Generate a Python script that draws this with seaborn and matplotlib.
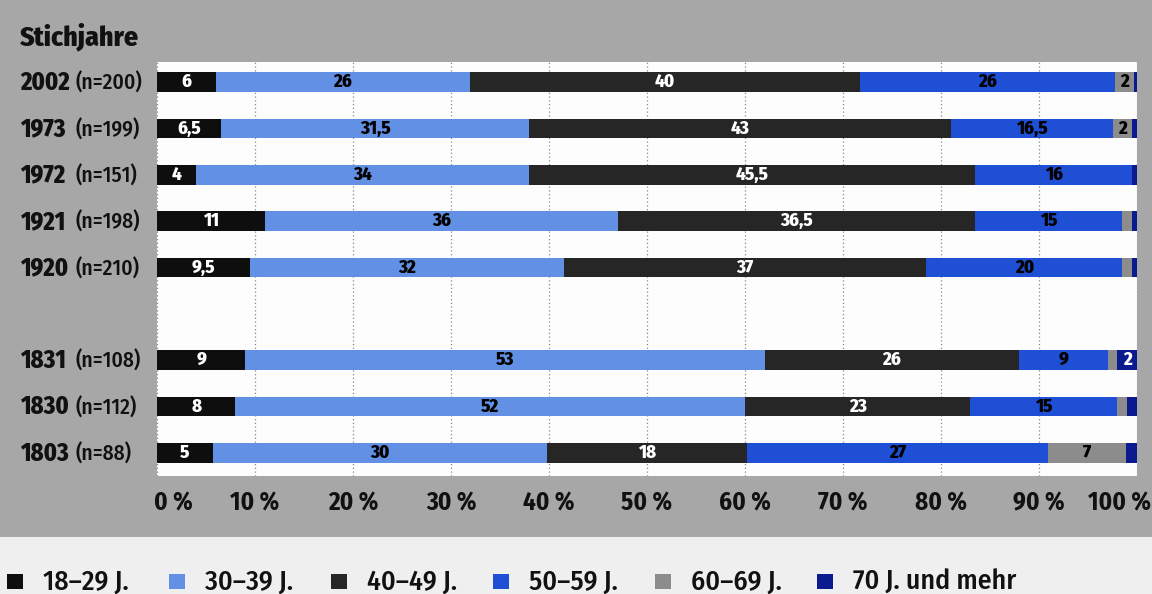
import matplotlib
matplotlib.use("Agg")
import matplotlib.pyplot as plt
from matplotlib.patches import Rectangle
from matplotlib import transforms
import pandas as pd
import seaborn as sns

# survey years (top to bottom) and their sample sizes
years = ["2002", "1973", "1972", "1921", "1920", "1831", "1830", "1803"]
sample_sizes = [200, 199, 151, 198, 210, 108, 112, 88]
age_groups = ["18–29 J.", "30–39 J.", "40–49 J.", "50–59 J.", "60–69 J.", "70 J. und mehr"]

# values per age group (1803 is given as head counts of n=88)
age_18_29 = [6, 6.5, 4, 11, 9.5, 9, 8, 5]
age_30_39 = [26, 31.5, 34, 36, 32, 53, 52, 30]
age_40_49 = [40, 43, 45.5, 36.5, 37, 26, 23, 18]
age_50_59 = [26, 16.5, 16, 15, 20, 9, 15, 27]
age_60_69 = [2, 2, 0, 1, 1, 1, 1, 7]
age_70_plus = [0.3, 0.5, 0.5, 0.5, 0.5, 2, 1, 1]

group_colors = ["#0e0e0e", "#6190e4", "#262626", "#1f4fd4", "#8c8c8c", "#0b1a8e"]
label_colors = ["white", "black", "white", "black", "black", "white"]

# order of rows on the axis, with an empty slot between the two blocks
row_order = ["2002", "1973", "1972", "1921", "1920", " ", "1831", "1830", "1803"]

df = pd.DataFrame(
    [age_18_29, age_30_39, age_40_49, age_50_59, age_60_69, age_70_plus],
    index=age_groups, columns=years,
).T
shares = df.div(df.sum(axis=1), axis=0) * 100
cumulative = shares.cumsum(axis=1)

sns.set_theme(style="white")
plt.rcParams["font.family"] = ["Fira Sans Condensed", "Roboto", "DejaVu Sans"]
INK = "#111111"

W, H = 1152, 594
fig = plt.figure(figsize=(W / 100, H / 100), dpi=100)
fig.patch.set_facecolor("#a7a7a7")
fig.add_artist(Rectangle((0, 0), 1, 57 / H, transform=fig.transFigure,
                         facecolor="#efefef", edgecolor="none", zorder=0))

ax = fig.add_axes([157 / W, 1 - 476 / H, 980 / W, 414 / H])
ax.set_facecolor("#fdfdfd")

# stacked bars: draw cumulative totals from the widest down to the narrowest
for gi in range(len(age_groups) - 1, -1, -1):
    g = age_groups[gi]
    sns.barplot(x=cumulative[g].values, y=years, order=row_order, orient="h",
                color=group_colors[gi], saturation=1, width=0.43,
                linewidth=0, errorbar=None, ax=ax, zorder=3)

# value labels centred in each segment
for gi, g in enumerate(age_groups):
    for yr in years:
        v = df.loc[yr, g]
        if v < 2:
            continue
        xc = cumulative.loc[yr, g] - shares.loc[yr, g] / 2
        yc = row_order.index(yr)
        ax.text(xc, yc, f"{v:g}".replace(".", ","), ha="center", va="center",
                color=label_colors[gi], fontsize=13.5, fontweight="heavy", zorder=5)

ax.set_xlim(0, 100)
ax.set_ylim(8.5, -0.435)
ax.set_ylabel("")
ax.set_xlabel("")
ax.set_yticks([])
ax.set_xticks(range(0, 101, 10))
ax.set_xticklabels([f"{t} %" for t in range(0, 101, 10)], fontsize=18, fontweight="bold")
ax.tick_params(axis="x", length=0, pad=11, colors=INK)
ax.set_axisbelow(True)
ax.grid(axis="x", linestyle=(0, (1, 2)), color="#8a8a8a", linewidth=0.9)
for s in ax.spines.values():
    s.set_visible(False)

# pull the outermost tick labels inward
tl = ax.get_xticklabels()
tl[0].set_transform(tl[0].get_transform() + transforms.ScaledTranslation(0.16, 0, fig.dpi_scale_trans))
tl[-1].set_transform(tl[-1].get_transform() + transforms.ScaledTranslation(-0.17, 0, fig.dpi_scale_trans))

# row labels: year in bold plus sample size
blend = transforms.blended_transform_factory(fig.transFigure, ax.transData)
for yr, n in zip(years, sample_sizes):
    yc = row_order.index(yr) + 0.17
    fig.text(20 / W, yc, yr, transform=blend, ha="left", va="baseline",
             fontsize=17.5, fontweight="heavy", color=INK)
    fig.text(75 / W, yc, f"(n={n})", transform=blend, ha="left", va="baseline",
             fontsize=15.5, fontweight="medium", color=INK)

fig.text(20 / W, 1 - 45 / H, "Stichjahre", ha="left", va="baseline",
         fontsize=20, fontweight="heavy", color=INK)

# legend row along the bottom
for i, (lab, col) in enumerate(zip(age_groups, group_colors)):
    x0 = 7 + 162 * i
    fig.add_artist(Rectangle((x0 / W, 1 - 589 / H), 16 / W, 15 / H,
                             transform=fig.transFigure, facecolor=col,
                             edgecolor="none", zorder=2))
    fig.text((x0 + 36) / W, 1 - 582 / H, lab, ha="left", va="center",
             fontsize=20, fontweight="medium", color=INK)

fig.savefig("out.png", dpi=100, facecolor=fig.get_facecolor())
